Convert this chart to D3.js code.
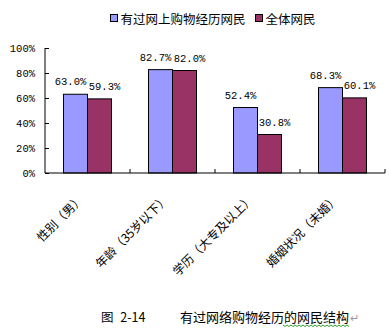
<!DOCTYPE html>
<html><head><meta charset="utf-8">
<script src="https://cdn.jsdelivr.net/npm/d3@7"></script>
<style>
html,body{margin:0;padding:0;background:#fff;}
svg{display:block;}
</style>
</head><body>
<svg id="c" width="389" height="331"></svg>
<script>
const categories = ["性别（男）", "年龄（35岁以下）", "学历（大专及以上）", "婚姻状况（未婚）"];
const seriesNames = ["有过网上购物经历网民", "全体网民"];
const shoppers = [63.0, 82.7, 52.4, 68.3];
const allUsers = [59.3, 82.0, 30.8, 60.1];
const yTicks = [0, 20, 40, 60, 80, 100];
const colors = ["#9999FF", "#993366"];
const captionLeft = "图 2-14";
const captionRight = "有过网络购物经历的网民结构";

const svg = d3.select("#c");
const cjk = "'Noto Sans CJK SC', 'Noto Sans', sans-serif";
const mono = "'Liberation Mono', 'DejaVu Sans Mono', monospace";

const x0 = d3.scaleBand().domain(categories).range([45, 385]);
const x1 = d3.scaleBand().domain(seriesNames).range([18.5, 66.5]);
const y = d3.scaleLinear().domain([0, 100]).range([173, 48]);

// y axis
const yAxis = svg.append("g").attr("transform", "translate(45,0)")
  .call(d3.axisLeft(y).tickValues(yTicks).tickSize(-4).tickPadding(10).tickFormat(d => d + "%"));
yAxis.select(".domain").attr("stroke", "#000").attr("d", `M0,${y(100)}V${y(0)}`);
yAxis.selectAll(".tick line").attr("stroke", "#000");
yAxis.selectAll(".tick text").attr("font-family", mono).attr("font-size", "10.5px").attr("fill", "#000");

// bars
const data = categories.map((c, i) => ({ c, vals: [shoppers[i], allUsers[i]] }));
const groups = svg.append("g").selectAll("g").data(data).join("g")
  .attr("transform", d => `translate(${x0(d.c)},0)`);
groups.selectAll("rect").data(d => d.vals.map((v, j) => ({ v, s: seriesNames[j], j })))
  .join("rect")
  .attr("x", d => x1(d.s))
  .attr("y", d => y(d.v))
  .attr("width", x1.bandwidth())
  .attr("height", d => y(0) - y(d.v))
  .attr("fill", d => colors[d.j])
  .attr("stroke", "#000").attr("stroke-width", 1);

// value labels (spread outward so neighbours do not collide)
groups.selectAll("text.val").data(d => d.vals.map((v, j) => ({ v, s: seriesNames[j], j })))
  .join("text").attr("class", "val")
  .attr("x", d => x1(d.s) + x1.bandwidth() / 2 + (d.j === 0 ? -5 : 5))
  .attr("y", d => y(d.v) - 9)
  .attr("text-anchor", "middle")
  .attr("font-family", mono).attr("font-size", "10.5px").attr("fill", "#000")
  .text(d => d.v.toFixed(1) + "%");

// x axis
svg.append("line").attr("x1", 45).attr("x2", 385).attr("y1", y(0)).attr("y2", y(0)).attr("stroke", "#000");
const bounds = categories.map(c => x0(c) + x0.bandwidth());
svg.append("g").selectAll("line").data(bounds).join("line")
  .attr("x1", d => d).attr("x2", d => d)
  .attr("y1", y(0)).attr("y2", y(0) - 4).attr("stroke", "#000");

// category labels rotated
svg.append("g").selectAll("text").data(categories).join("text")
  .attr("transform", c => `translate(${x0(c) + x0.bandwidth() / 2 - 3},${y(0) + 27}) rotate(-45)`)
  .attr("text-anchor", "end")
  .attr("font-family", cjk).attr("font-size", "12px").attr("fill", "#000")
  .text(c => c);

// legend
const legendX = [110.5, 255.5];
const lg = svg.append("g").selectAll("g").data(seriesNames).join("g")
  .attr("transform", (d, i) => `translate(${legendX[i]},14)`);
lg.append("rect").attr("width", 7).attr("height", 7).attr("y", 0.5)
  .attr("fill", (d, i) => colors[i]).attr("stroke", "#000");
lg.append("text").attr("x", 10).attr("y", 9.5)
  .attr("font-family", cjk).attr("font-size", "12.5px").attr("fill", "#000")
  .text(d => d);

// caption
svg.append("text").attr("x", 101).attr("y", 322)
  .attr("font-family", cjk).attr("font-size", "12.5px").attr("fill", "#000")
  .attr("word-spacing", "4px")
  .text(captionLeft);
svg.append("text").attr("x", 180).attr("y", 322)
  .attr("font-family", cjk).attr("font-size", "13px").attr("fill", "#000")
  .text(captionRight);
svg.append("text").attr("x", 350).attr("y", 322)
  .attr("font-family", cjk).attr("font-size", "11px").attr("fill", "#999")
  .text("↵");
// green wavy underline
const wave = d3.range(0, 34).map(i => [283 + i * 2, 325 + (i % 2 ? 1.5 : 0)]);
svg.append("path").attr("d", d3.line()(wave)).attr("fill", "none")
  .attr("stroke", "#2e9e2e").attr("stroke-width", 1);
</script>
</body></html>
